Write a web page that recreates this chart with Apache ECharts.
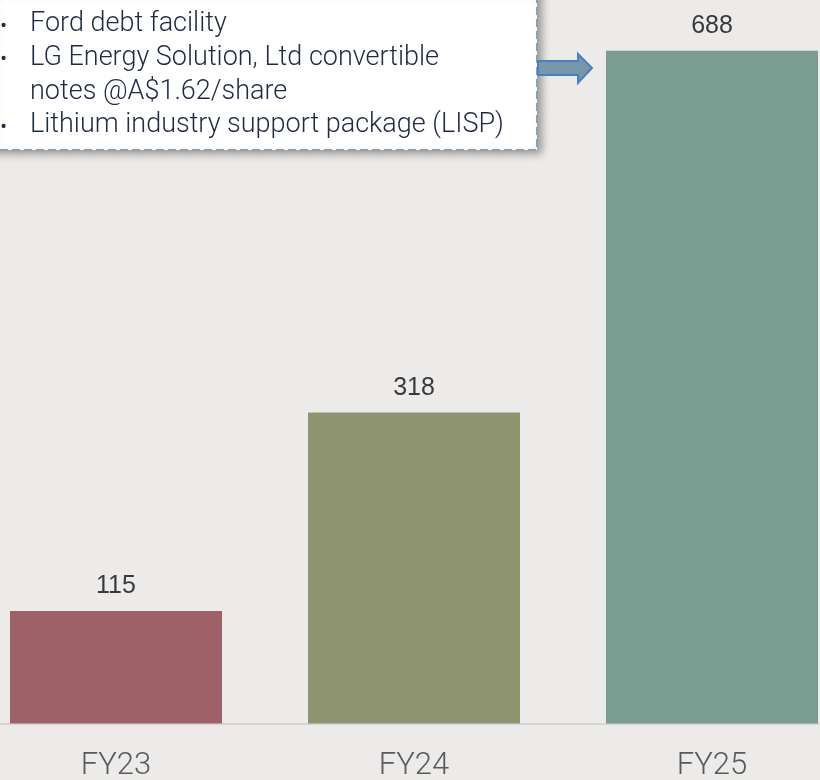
<!DOCTYPE html>
<html lang="en">
<head>
    <meta charset="UTF-8">
    <script src="https://cdn.jsdelivr.net/npm/echarts@6/dist/echarts.min.js"></script>
    <title>Funding</title>
    <style>
        html, body { margin: 0; padding: 0; background: #ecebe9; }
        #main { width: 820px; height: 780px; }
    </style>
</head>
<body>
<div id="main"></div>
<script>
    var categories = ['FY23', 'FY24', 'FY25']
    var values = [115, 318, 688]
    var barColors = ['#9e6168', '#8f9470', '#7b9c90']
    var notes = [
        'Ford debt facility',
        'LG Energy Solution, Ltd convertible',
        'notes @A$1.62/share',
        'Lithium industry support package (LISP)'
    ]
    var bullets = [true, true, false, true]

    var myChart = echarts.init(document.getElementById('main'))

    // text lines of the callout box
    var noteItems = []
    for (var i = 0; i < notes.length; i++) {
        if (bullets[i]) {
            noteItems.push({
                type: 'text', left: 0, top: 16 + i * 33.7, z: 11,
                style: { text: '•', fill: '#1f2a44', font: '300 22px Roboto' }
            })
        }
        noteItems.push({
            type: 'text', left: 30, top: 11 + i * 33.7, z: 11,
            style: { text: notes[i], fill: '#1f2a44', font: '300 27px Roboto' }
        })
    }

    var option = {
        backgroundColor: '#ecebe9',
        animation: false,
        grid: { left: -33, width: 894, top: 0, bottom: 56.5, outerBoundsMode: 'none', containLabel: false },
        xAxis: {
            type: 'category',
            data: categories,
            axisLine: { lineStyle: { color: '#d6d5d3', width: 2 } },
            axisTick: { show: false },
            axisLabel: {
                color: '#5a5a5a', fontSize: 31, fontFamily: 'Roboto', fontWeight: 300,
                margin: 27
            }
        },
        yAxis: {
            type: 'value', min: 0, max: 740,
            show: false, splitLine: { show: false }
        },
        series: [{
            type: 'bar',
            barWidth: 212,
            data: values.map(function (v, i) {
                return { value: v, itemStyle: { color: barColors[i] } }
            }),
            label: {
                show: true, position: 'top', distance: 12,
                color: '#3a3a3a', fontSize: 25, fontFamily: 'Liberation Sans'
            }
        }],
        graphic: [
            {
                type: 'rect', z: 10,
                shape: { x: -10, y: -10, width: 547, height: 160 },
                style: {
                    fill: '#ffffff', stroke: '#8aa1b4', lineWidth: 2, lineDash: [8, 4],
                    shadowBlur: 8, shadowOffsetX: 4, shadowOffsetY: 3, shadowColor: 'rgba(0,0,0,0.35)'
                }
            },
            {
                type: 'polygon', z: 10,
                shape: {
                    points: [[538, 61], [578, 61], [578, 54], [592, 68], [578, 83], [578, 75], [538, 75]]
                },
                style: { fill: '#7896aa', stroke: '#4a7fc1', lineWidth: 2 }
            }
        ].concat(noteItems)
    }

    myChart.setOption(option)
</script>
</body>
</html>
